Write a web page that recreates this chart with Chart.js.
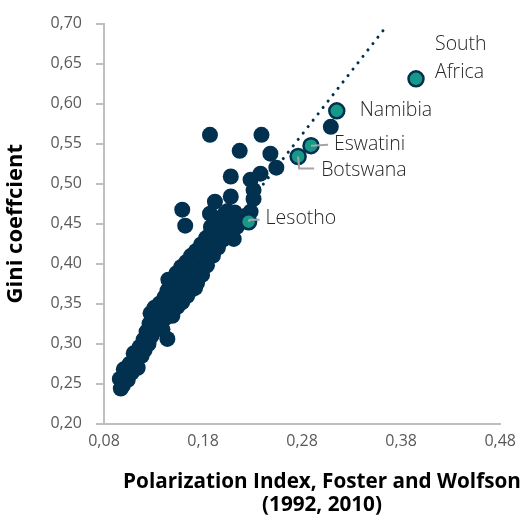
<!DOCTYPE html>
<html>
<head>
<meta charset="utf-8">
<script src="https://cdn.jsdelivr.net/npm/chart.js@4.4.1/dist/chart.umd.min.js"></script>
<style>
  html, body { margin: 0; padding: 0; background: #fff; }
</style>
</head>
<body>
<canvas id="giniChart" width="524" height="516"></canvas>
<script>
// other countries: polarization index (x) and gini (y)
const polarX = [
  0.097, 0.096, 0.099, 0.101, 0.100, 0.104, 0.106, 0.108, 0.110, 0.112, 0.114, 0.116,
  0.118, 0.120, 0.121, 0.123, 0.125, 0.126, 0.127, 0.128, 0.130, 0.131,
  0.132, 0.134, 0.135, 0.136, 0.137, 0.139, 0.140, 0.141, 0.142, 0.144,
  0.144, 0.145, 0.146, 0.147, 0.148, 0.149, 0.150, 0.151, 0.152, 0.153,
  0.154, 0.155, 0.156, 0.157, 0.158, 0.159, 0.160, 0.161, 0.162, 0.163,
  0.164, 0.165, 0.166, 0.167, 0.168, 0.169, 0.170, 0.171, 0.172, 0.173,
  0.174, 0.175, 0.176, 0.177, 0.178, 0.179, 0.180, 0.181, 0.182, 0.183,
  0.184, 0.185, 0.186, 0.187, 0.188, 0.190, 0.191, 0.192, 0.193, 0.195,
  0.196, 0.197, 0.198, 0.200, 0.202, 0.203, 0.205, 0.207, 0.209, 0.211,
  0.212, 0.214, 0.216, 0.172,
  0.159, 0.162, 0.187, 0.192, 0.202, 0.208, 0.208, 0.228, 0.231, 0.231,
  0.228, 0.238, 0.254, 0.248, 0.217, 0.187, 0.239, 0.309
];
const giniY = [
  0.244, 0.256, 0.248, 0.258, 0.268, 0.255, 0.275, 0.264, 0.288, 0.278, 0.270, 0.296,
  0.285, 0.305, 0.292, 0.315, 0.300, 0.325, 0.338, 0.310, 0.330, 0.345,
  0.318, 0.340, 0.328, 0.350, 0.336, 0.318, 0.346, 0.358, 0.332, 0.306,
  0.366, 0.380, 0.342, 0.356, 0.370, 0.335, 0.350, 0.362, 0.376, 0.388,
  0.346, 0.358, 0.370, 0.382, 0.396, 0.352, 0.364, 0.378, 0.390, 0.402,
  0.360, 0.372, 0.386, 0.398, 0.410, 0.368, 0.380, 0.392, 0.404, 0.416,
  0.376, 0.388, 0.400, 0.412, 0.424, 0.386, 0.396, 0.408, 0.420, 0.432,
  0.398, 0.412, 0.424, 0.436, 0.446, 0.410, 0.422, 0.434, 0.446, 0.420,
  0.432, 0.444, 0.456, 0.430, 0.442, 0.454, 0.466, 0.440, 0.452, 0.431,
  0.464, 0.446, 0.458, 0.370,
  0.4675, 0.4475, 0.4625, 0.4775, 0.4625, 0.484, 0.509, 0.465, 0.481, 0.492,
  0.505, 0.5125, 0.520, 0.5375, 0.541, 0.561, 0.561, 0.571
];

// highlighted countries
const hiNames = ['South Africa', 'Namibia', 'Eswatini', 'Botswana', 'Lesotho'];
const hiX = [0.395, 0.315, 0.289, 0.276, 0.226];
const hiY = [0.631, 0.591, 0.5475, 0.534, 0.4525];

// dotted trend line end points
const trendX = [0.10, 0.366];
const trendY = [0.276, 0.698];

const xTicks = [0.08, 0.18, 0.28, 0.38, 0.48];
const yTicks = [0.20, 0.25, 0.30, 0.35, 0.40, 0.45, 0.50, 0.55, 0.60, 0.65, 0.70];

const xTitle = ['Polarization Index, Foster and Wolfson', '(1992, 2010)'];

const navy = '#02304f';
const teal = '#17998a';
const tickGrey = '#595959';
const lineGrey = '#a6a6a6';
const axisGrey = '#bfbfbf';

function toPoints(xs, ys) {
  return xs.map((x, i) => ({ x: x, y: ys[i] }));
}

function commaFmt(v) {
  return v.toFixed(2).replace('.', ',');
}

// labels for the highlighted points, offsets in px from the point
const labelPlugin = {
  id: 'countryLabels',
  afterDatasetsDraw(chart) {
    const ctx = chart.ctx;
    const xs = chart.scales.x;
    const ys = chart.scales.y;
    const px = hiX.map(v => xs.getPixelForValue(v));
    const py = hiY.map(v => ys.getPixelForValue(v));
    ctx.save();
    ctx.font = '300 19.5px "Open Sans"';
    ctx.fillStyle = '#262626';
    ctx.textBaseline = 'middle';
    ctx.textAlign = 'left';
    ctx.strokeStyle = lineGrey;
    ctx.lineWidth = 2;

    // South Africa (two lines)
    ctx.fillText('South', px[0] + 19, py[0] - 34);
    ctx.fillText('Africa', px[0] + 19, py[0] - 6);
    // Namibia
    ctx.fillText('Namibia', px[1] + 23, py[1]);
    // Eswatini with leader
    ctx.beginPath();
    ctx.moveTo(px[2], py[2]);
    ctx.lineTo(px[2] + 17, py[2] - 1);
    ctx.stroke();
    ctx.fillText('Eswatini', px[2] + 23, py[2] - 1);
    // Botswana with elbow leader
    ctx.beginPath();
    ctx.moveTo(px[3], py[3]);
    ctx.lineTo(px[3] + 1, py[3] + 12);
    ctx.lineTo(px[3] + 16, py[3] + 12);
    ctx.stroke();
    ctx.fillText('Botswana', px[3] + 23, py[3] + 14);
    // Lesotho with leader
    ctx.beginPath();
    ctx.moveTo(px[4], py[4]);
    ctx.lineTo(px[4] + 1, py[4] - 2);
    ctx.lineTo(px[4] + 11, py[4] - 2);
    ctx.stroke();
    ctx.fillText('Lesotho', px[4] + 17, py[4] - 3);

    // x axis title, centred block at the bottom of the canvas
    ctx.font = 'bold 20.7px "Open Sans"';
    ctx.fillStyle = '#000';
    ctx.textAlign = 'center';
    const cx = 322;
    ctx.fillText(xTitle[0], cx, chart.height - 34);
    ctx.fillText(xTitle[1], cx, chart.height - 11);
    ctx.restore();
  }
};

const ctx = document.getElementById('giniChart').getContext('2d');
const giniChart = new Chart(ctx, {
  type: 'scatter',
  data: {
    datasets: [
      {
        label: 'Highlighted',
        data: toPoints(hiX, hiY),
        backgroundColor: teal,
        borderColor: navy,
        borderWidth: 2.5,
        pointRadius: 7.5,
        order: 0
      },
      {
        label: 'Countries',
        data: toPoints(polarX, giniY),
        backgroundColor: navy,
        borderColor: navy,
        borderWidth: 0,
        pointRadius: 8,
        order: 1
      },
      {
        label: 'Trend',
        data: toPoints(trendX, trendY),
        showLine: true,
        borderColor: navy,
        borderWidth: 3,
        borderDash: [0.1, 8],
        borderCapStyle: 'round',
        pointRadius: 0,
        order: 2
      }
    ]
  },
  plugins: [labelPlugin],
  options: {
    responsive: false,
    animation: false,
    layout: { padding: { left: 3, right: 17, top: 12, bottom: 57 } },
    plugins: {
      legend: { display: false },
      tooltip: { enabled: false }
    },
    scales: {
      x: {
        type: 'linear',
        min: 0.08,
        max: 0.48,
        afterBuildTicks: (scale) => { scale.ticks = xTicks.map(v => ({ value: v })); },
        border: { display: true, color: axisGrey, width: 2 },
        grid: { display: true, drawOnChartArea: false, drawTicks: false, color: 'rgba(0,0,0,0)' },
        ticks: {
          callback: (v) => commaFmt(v),
          color: tickGrey,
          font: { family: 'Open Sans', size: 16 },
          padding: 8,
          maxRotation: 0
        }
      },
      y: {
        type: 'linear',
        min: 0.20,
        max: 0.70,
        afterBuildTicks: (scale) => { scale.ticks = yTicks.map(v => ({ value: v })); },
        border: { display: true, color: axisGrey, width: 2 },
        grid: {
          drawOnChartArea: false,
          drawTicks: true,
          tickLength: 8,
          color: axisGrey,
          lineWidth: 2
        },
        ticks: {
          callback: (v) => commaFmt(v),
          color: tickGrey,
          font: { family: 'Open Sans', size: 16 },
          padding: 14
        },
        title: {
          display: true,
          text: 'Gini coeffcient',
          color: '#000',
          font: { family: 'Open Sans', size: 22, weight: 'bold' },
          padding: { top: 0, bottom: 7 }
        }
      }
    }
  }
});
</script>
</body>
</html>
